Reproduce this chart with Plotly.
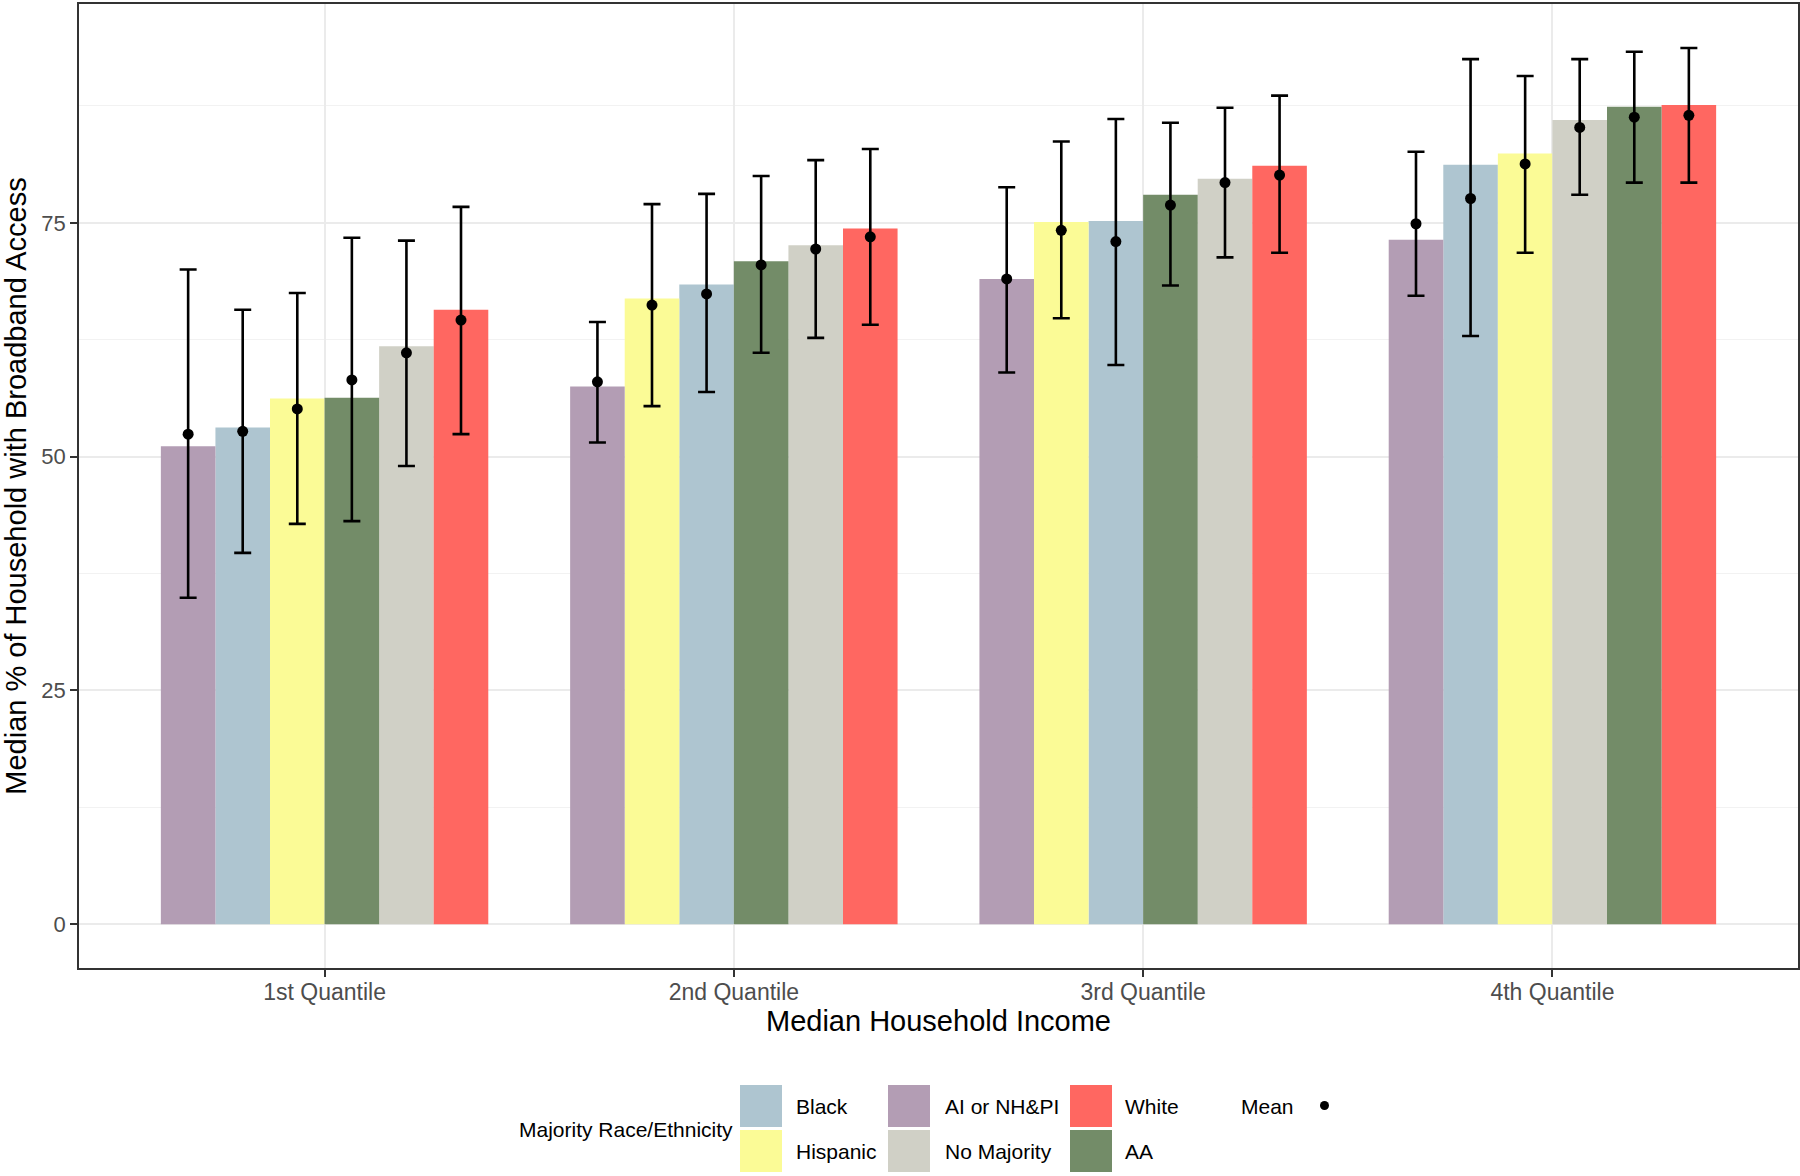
import plotly.graph_objects as go

# ---------------- data ----------------
groups = ["1st Quantile", "2nd Quantile", "3rd Quantile", "4th Quantile"]
series = ["Black", "Hispanic", "AI or NH&PI", "No Majority", "White", "AA"]

median_black = [53.1, 68.4, 75.2, 81.2]
median_hispanic = [56.2, 66.9, 75.1, 82.4]
median_ai = [51.1, 57.5, 69.0, 73.2]
median_nomaj = [61.8, 72.6, 79.7, 86.0]
median_white = [65.7, 74.4, 81.1, 87.6]
median_aa = [56.3, 70.9, 78.0, 87.4]

mean_black = [52.7, 67.4, 73.0, 77.6]
mean_hispanic = [55.1, 66.2, 74.2, 81.3]
mean_ai = [52.4, 58.0, 69.0, 74.9]
mean_nomaj = [61.1, 72.2, 79.3, 85.2]
mean_white = [64.6, 73.5, 80.1, 86.5]
mean_aa = [58.2, 70.5, 76.9, 86.3]

lower_black = [39.7, 56.9, 59.8, 62.9]
lower_hispanic = [42.8, 55.4, 64.8, 71.8]
lower_ai = [34.9, 51.5, 59.0, 67.2]
lower_nomaj = [49.0, 62.7, 71.3, 78.0]
lower_white = [52.4, 64.1, 71.8, 79.3]
lower_aa = [43.1, 61.1, 68.3, 79.3]

upper_black = [65.7, 78.1, 86.1, 92.5]
upper_hispanic = [67.5, 77.0, 83.7, 90.7]
upper_ai = [70.0, 64.4, 78.8, 82.6]
upper_nomaj = [73.1, 81.7, 87.3, 92.5]
upper_white = [76.7, 82.9, 88.6, 93.7]
upper_aa = [73.4, 80.0, 85.7, 93.3]

y_ticks = [0, 25, 50, 75]

medians = [median_black, median_hispanic, median_ai, median_nomaj, median_white, median_aa]
means = [mean_black, mean_hispanic, mean_ai, mean_nomaj, mean_white, mean_aa]
lowers = [lower_black, lower_hispanic, lower_ai, lower_nomaj, lower_white, lower_aa]
uppers = [upper_black, upper_hispanic, upper_ai, upper_nomaj, upper_white, upper_aa]

# ---------------- styles ----------------
colors = {
    "Black": "#AEC5D0",
    "Hispanic": "#FBFB96",
    "AI or NH&PI": "#B39DB4",
    "No Majority": "#D0D0C6",
    "White": "#FF6761",
    "AA": "#738C68",
}
FONT = "Liberation Sans, Arial, sans-serif"
W, H = 1800, 1176
ML, MR, MT, MB = 79, 2, 4, 208
DODGE = 0.8
n = len(series)
bw = DODGE / n

# rank of each series within each group (bars sorted by median, ascending)
positions = [[0.0] * len(groups) for _ in series]
for g in range(len(groups)):
    order = sorted(range(n), key=lambda s: medians[s][g])
    for rank, s in enumerate(order):
        positions[s][g] = (g + 1) + (rank - (n - 1) / 2) * bw

fig = go.Figure()
for s, name in enumerate(series):
    fig.add_trace(go.Bar(
        x=positions[s], y=medians[s], width=bw, name=name,
        marker=dict(color=colors[name], line=dict(width=0)),
        showlegend=False,
    ))
for s, name in enumerate(series):
    fig.add_trace(go.Scatter(
        x=positions[s], y=means[s], mode="markers", name="Mean",
        marker=dict(color="black", size=11),
        error_y=dict(type="data", symmetric=False,
                     array=[u - m for u, m in zip(uppers[s], means[s])],
                     arrayminus=[m - l for m, l in zip(means[s], lowers[s])],
                     color="black", thickness=2.6, width=8.5),
        showlegend=False,
    ))

pw = W - ML - MR
ph = H - MT - MB


def px_x(px):
    return (px - ML) / pw


def px_y(py):
    return (H - MB - py) / ph


shapes = []
annotations = []
# legend title
annotations.append(dict(text="Majority Race/Ethnicity", x=px_x(517), y=px_y(1129),
                        xref="paper", yref="paper", xanchor="left", yanchor="middle",
                        showarrow=False, font=dict(size=21, color="black", family=FONT)))
col_key_x = [740, 888, 1070]
col_lab_x = [794, 943, 1123]
row_top = [1085, 1130]
key = 42
for i, name in enumerate(series):
    c, r = i // 2, i % 2
    shapes.append(dict(type="rect", xref="paper", yref="paper",
                       x0=px_x(col_key_x[c]), x1=px_x(col_key_x[c] + key),
                       y0=px_y(row_top[r] + key), y1=px_y(row_top[r]),
                       fillcolor=colors[name], line=dict(width=0)))
    annotations.append(dict(text=name, x=px_x(col_lab_x[c]), y=px_y(row_top[r] + key / 2),
                            xref="paper", yref="paper", xanchor="left", yanchor="middle",
                            showarrow=False, font=dict(size=21, color="black", family=FONT)))
annotations.append(dict(text="Mean", x=px_x(1239), y=px_y(1106),
                        xref="paper", yref="paper", xanchor="left", yanchor="middle",
                        showarrow=False, font=dict(size=21, color="black", family=FONT)))
shapes.append(dict(type="circle", xref="paper", yref="paper",
                   x0=px_x(1320), x1=px_x(1329), y0=px_y(1110), y1=px_y(1101),
                   fillcolor="black", line=dict(width=0)))

fig.update_layout(
    width=W, height=H,
    margin=dict(l=ML, r=MR, t=MT, b=MB, pad=0),
    paper_bgcolor="white", plot_bgcolor="white",
    font=dict(family=FONT, color="#4D4D4D"),
    barmode="overlay",
    shapes=shapes, annotations=annotations,
    showlegend=False,
)
fig.update_xaxes(
    range=[0.4, len(groups) + 0.6],
    tickvals=list(range(1, len(groups) + 1)), ticktext=groups,
    tickfont=dict(size=23, color="#4D4D4D", family=FONT),
    ticks="outside", ticklen=7, tickwidth=1.5, tickcolor="#333333",
    ticklabelstandoff=-4,
    showgrid=True, gridcolor="#EBEBEB", gridwidth=1.5,
    showline=True, linecolor="#333333", linewidth=1.5, mirror=True,
    zeroline=False, automargin=False,
    title=dict(text="Median Household Income", standoff=6,
               font=dict(size=29, color="black", family=FONT)),
)
fig.update_yaxes(
    range=[-4.69, 98.4],
    tickvals=y_ticks,
    tickfont=dict(size=22, color="#4D4D4D", family=FONT),
    ticks="outside", ticklen=7, tickwidth=1.5, tickcolor="#333333",
    showgrid=True, gridcolor="#EBEBEB", gridwidth=1.5,
    minor=dict(tick0=12.5, dtick=25, showgrid=True, gridcolor="#F2F2F2", gridwidth=1, ticks=""),
    showline=True, linecolor="#333333", linewidth=1.5, mirror=True,
    zeroline=False, automargin=False,
    title=dict(text="Median % of Household with Broadband Access", standoff=10,
               font=dict(size=29, color="black", family=FONT)),
)

fig.write_html(
    "out.html",
    config={"displayModeBar": False},
    post_script="document.body.style.margin='0px';document.body.style.overflow='hidden';",
)
